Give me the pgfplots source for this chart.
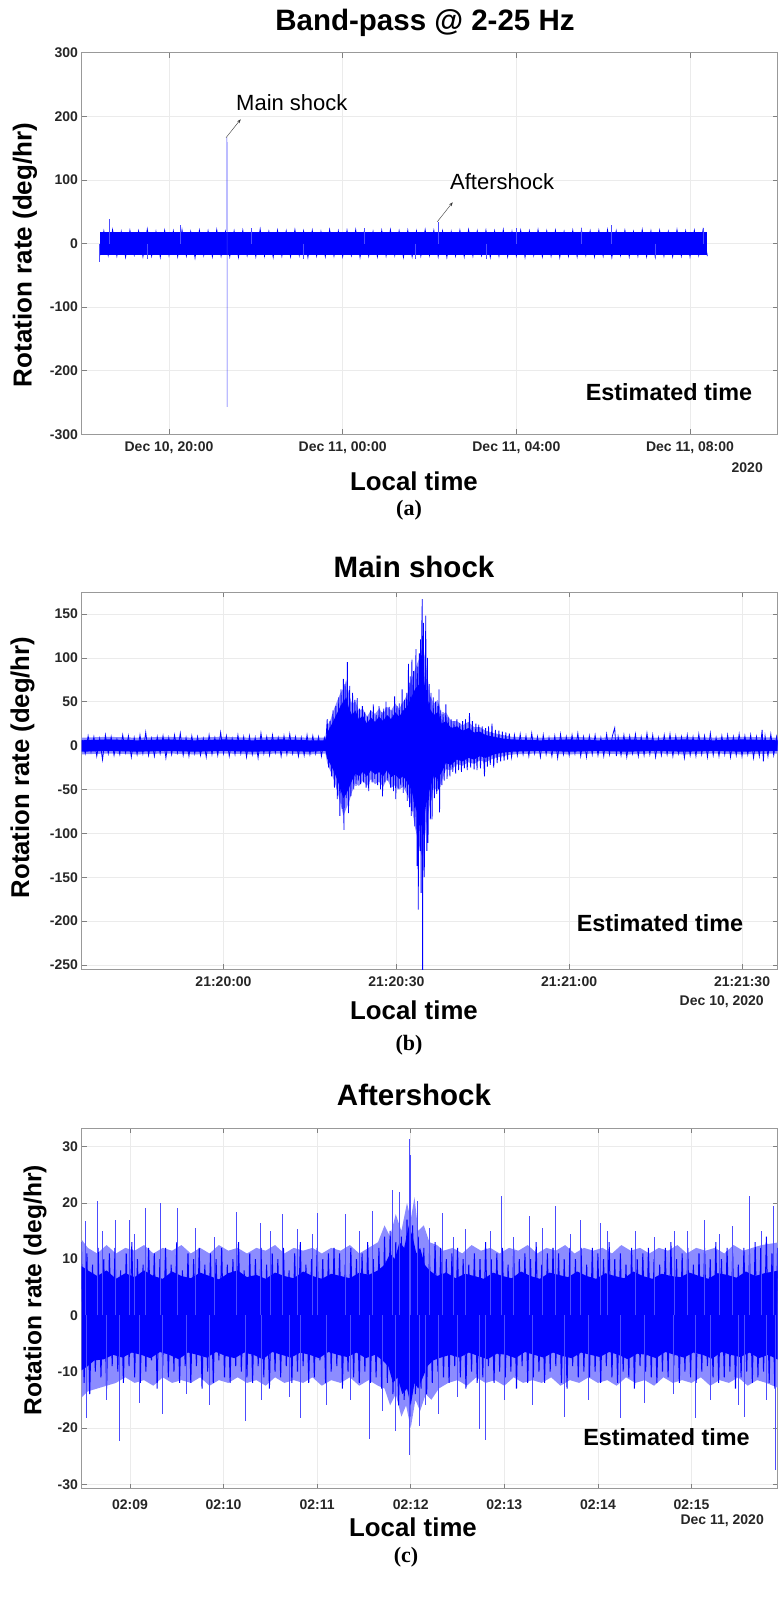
\documentclass[border=0pt]{standalone}
\usepackage{pgfplots}
\pgfplotsset{compat=1.18}
\usepackage{fontspec}
\setmainfont{Liberation Sans}
\newfontfamily\seriffont{Liberation Serif}
\usetikzlibrary{arrows.meta}
\pgfplotsset{
  mat/.style={
    scale only axis, width=696bp, anchor=north west,
    axis line style={draw=black!40, line width=0.6bp},
    tick style={draw=black!50, line width=0.6bp},
    major tick length=5bp,
    grid=major, major grid style={draw=black!8, line width=0.6bp},
    tick label style={font=\fontsize{14bp}{16bp}\selectfont\bfseries, text=black!85},
    clip=true,
  },
  sig/.style={blue, line width=0.8bp, no marks, sharp plot},
  spk/.style={ycomb, blue!70, line width=0.5bp, no marks},
  core/.style={fill=blue, draw=none},
  halo/.style={fill=blue!45, draw=none},
}
\begin{document}
\begin{tikzpicture}
\useasboundingbox (0,0) rectangle (782bp,-1603bp);
% ---------------- (a)
\begin{axis}[mat, at={(81.5bp,-52.7bp)}, height=381.6bp,
  xticklabel style={yshift=-4bp},
  xmin=17.985, xmax=34.015, ymin=-300, ymax=300,
  xtick={20,24,28,32}, xticklabels={{Dec 10, 20:00},{Dec 11, 00:00},{Dec 11, 04:00},{Dec 11, 08:00}},
  ytick={-300,-200,-100,0,100,200,300}, yticklabels={-300,-200,-100,0,100,200,300}]
\addplot[core] coordinates {(18.4,-18) (32.4,-18) (32.4,18) (18.4,18)};
\addplot[sig, line width=0.7bp] coordinates {
(18.4,-21) (18.5,20) (18.6,-19) (18.7,22) (18.8,-20) (18.9,19) (19.0,-22) (19.1,21) (19.2,-18) (19.3,20)
(19.4,-21) (19.5,23) (19.6,-20) (19.7,19) (19.8,-22) (19.9,21) (20.0,-19) (20.1,20) (20.2,-21) (20.3,22)
(20.4,-20) (20.5,19) (20.6,-23) (20.7,21) (20.8,-19) (20.9,20) (21.0,-21) (21.1,22) (21.2,-20) (21.3,19)
(21.4,-21) (21.5,20) (21.6,-22) (21.7,21) (21.8,-19) (21.9,20) (22.0,-21) (22.1,23) (22.2,-20) (22.3,19)
(22.4,-22) (22.5,21) (22.6,-20) (22.7,20) (22.8,-21) (22.9,22) (23.0,-19) (23.1,20) (23.2,-22) (23.3,21)
(23.4,-20) (23.5,19) (23.6,-21) (23.7,22) (23.8,-20) (23.9,20) (24.0,-21) (24.1,21) (24.2,-19) (24.3,22)
(24.4,-22) (24.5,20) (24.6,-20) (24.7,19) (24.8,-21) (24.9,21) (25.0,-20) (25.1,22) (25.2,-19) (25.3,20)
(25.4,-22) (25.5,21) (25.6,-21) (25.7,20) (25.8,-20) (25.9,22) (26.0,-19) (26.1,21) (26.2,-21) (26.3,20)
(26.4,-22) (26.5,19) (26.6,-20) (26.7,21) (26.8,-21) (26.9,22) (27.0,-20) (27.1,20) (27.2,-19) (27.3,21)
(27.4,-22) (27.5,20) (27.6,-20) (27.7,22) (27.8,-21) (27.9,19) (28.0,-20) (28.1,21) (28.2,-22) (28.3,20)
(28.4,-19) (28.5,22) (28.6,-21) (28.7,20) (28.8,-20) (28.9,21) (29.0,-22) (29.1,19) (29.2,-20) (29.3,21)
(29.4,-21) (29.5,22) (29.6,-19) (29.7,20) (29.8,-21) (29.9,21) (30.0,-20) (30.1,22) (30.2,-22) (30.3,20)
(30.4,-19) (30.5,21) (30.6,-21) (30.7,19) (30.8,-20) (30.9,22) (31.0,-21) (31.1,20) (31.2,-22) (31.3,21)
(31.4,-20) (31.5,19) (31.6,-21) (31.7,22) (31.8,-20) (31.9,20) (32.0,-21) (32.1,21) (32.2,-19) (32.3,22)
(32.4,-20)};
\addplot[spk] coordinates {(18.4,-29) (18.62,38) (19.5,-24) (20.25,29) (21.9,25) (23.1,-24) (24.5,24) (25.67,-25)
 (26.19,34) (27.3,-24) (28.0,24) (29.5,24) (30.18,29) (31.2,-23) (32.3,25)};
\addplot[blue!75, line width=0.5bp, no marks] coordinates {(21.336,20) (21.336,167) (21.338,-257) (21.34,-20)};
\end{axis}
% ---------------- (b)
\begin{axis}[mat, at={(81.5bp,-592.3bp)}, height=377bp,
  xticklabel style={yshift=-4bp},
  xmin=-24.65, xmax=96.16, ymin=-255, ymax=174.7,
  xtick={0,30,60,90}, xticklabels={21:20:00,21:20:30,21:21:00,21:21:30},
  ytick={-250,-200,-150,-100,-50,0,50,100,150}, yticklabels={-250,-200,-150,-100,-50,0,50,100,150}]
\addplot[halo] coordinates {(-24.65,9) (-20,10) (-15,9) (-10,10) (-5,9) (0,10) (5,9) (10,10) (15,9) (17.7,9) (18.0,22)
 (18.6,30) (19.2,42) (19.8,52) (20.3,60) (20.8,65) (21.3,75) (21.8,58) (22.3,48) (22.9,50) (23.5,40) (24.2,42)
 (24.9,33) (25.6,40) (26.3,36) (27.0,42) (27.7,36) (28.4,44) (29.1,40) (29.8,48) (30.5,42) (31.2,50) (31.9,58)
 (32.6,75) (33.3,88) (34.0,100) (34.6,115) (35.2,90) (35.8,58) (36.5,48) (37.2,52) (37.9,35) (38.6,38) (39.5,28)
 (40.5,28) (41.5,23) (42.5,27) (43.5,21) (44.5,21) (45.5,17) (47,14) (48.5,12) (50,10) (55,9) (60,10) (65,9) (70,10)
 (75,9) (80,10) (85,9) (90,10) (96.2,9)
 (96.2,-9) (90,-10) (85,-9) (80,-10) (75,-9) (70,-10) (65,-9) (60,-10) (55,-9) (50,-10) (48.5,-12) (47,-14)
 (45.5,-19) (44.5,-17) (43.5,-21) (42.5,-19) (41.5,-23) (40.5,-21) (39.5,-28) (38.6,-27) (37.9,-40) (37.2,-52)
 (36.5,-48) (35.8,-68) (35.2,-90) (34.6,-130) (34.0,-115) (33.3,-95) (32.6,-68) (31.9,-56) (31.2,-47) (30.5,-50)
 (29.8,-45) (29.1,-48) (28.4,-38) (27.7,-47) (27.0,-41) (26.3,-44) (25.6,-38) (24.9,-46) (24.2,-40) (23.5,-46)
 (22.9,-43) (22.3,-53) (21.8,-64) (21.3,-72) (20.8,-80) (20.3,-66) (19.8,-53) (19.2,-40) (18.6,-30) (18.0,-20)
 (17.7,-9) (15,-10) (10,-9) (5,-10) (0,-9) (-5,-10) (-10,-9) (-15,-10) (-20,-9) (-24.65,-10)};
\addplot[core] coordinates {(-24.65,6) (-20,7) (-15,6) (-10,7) (-5,6) (0,7) (5,6) (10,7) (15,6) (17.7,6) (18.0,15)
 (18.6,22) (19.2,30) (19.8,38) (20.3,45) (20.8,50) (21.3,55) (21.8,42) (22.3,35) (22.9,40) (23.5,30) (24.2,34)
 (24.9,25) (25.6,32) (26.3,27) (27.0,33) (27.7,28) (28.4,35) (29.1,30) (29.8,38) (30.5,33) (31.2,40) (31.9,45)
 (32.6,55) (33.3,65) (34.0,70) (34.6,80) (35.2,60) (35.8,42) (36.5,35) (37.2,38) (37.9,25) (38.6,28) (39.5,20)
 (40.5,22) (41.5,17) (42.5,20) (43.5,15) (44.5,16) (45.5,12) (47,10) (48.5,8) (50,7) (55,6) (60,7) (65,6) (70,7)
 (75,6) (80,7) (85,6) (90,7) (96.2,6)
 (96.2,-6) (90,-7) (85,-6) (80,-7) (75,-6) (70,-7) (65,-6) (60,-7) (55,-6) (50,-7) (48.5,-8) (47,-10) (45.5,-14)
 (44.5,-12) (43.5,-16) (42.5,-14) (41.5,-18) (40.5,-16) (39.5,-22) (38.6,-20) (37.9,-30) (37.2,-38) (36.5,-35)
 (35.8,-50) (35.2,-65) (34.6,-95) (34.0,-85) (33.3,-70) (32.6,-50) (31.9,-42) (31.2,-35) (30.5,-38) (29.8,-33)
 (29.1,-36) (28.4,-28) (27.7,-35) (27.0,-30) (26.3,-33) (25.6,-28) (24.9,-35) (24.2,-30) (23.5,-35) (22.9,-32)
 (22.3,-40) (21.8,-48) (21.3,-55) (20.8,-60) (20.3,-50) (19.8,-40) (19.2,-30) (18.6,-22) (18.0,-15) (17.7,-6)
 (15,-7) (10,-6) (5,-7) (0,-6) (-5,-7) (-10,-6) (-15,-7) (-20,-6) (-24.65,-7)};
\addplot[sig] coordinates {
(-24.5,6) (-24.0,-9) (-23.5,11) (-23.0,-7) (-22.5,10) (-22.0,-12) (-21.5,8) (-21.0,-16) (-20.5,12) (-20.0,-9)
(-19.5,10) (-19.0,-11) (-18.5,7) (-18.0,-10) (-17.5,12) (-17.0,-8) (-16.5,11) (-16.0,-13) (-15.5,9) (-15.0,-10)
(-14.5,12) (-14.0,-9) (-13.5,15) (-13.0,-11) (-12.5,8) (-12.0,-12) (-11.5,10) (-11.0,-9) (-10.5,11) (-10.0,-14)
(-9.5,9) (-9.0,-10) (-8.5,12) (-8.0,-8) (-7.5,14) (-7.0,-11) (-6.5,9) (-6.0,-12) (-5.5,11) (-5.0,-9)
(-4.5,10) (-4.0,-11) (-3.5,8) (-3.0,-13) (-2.5,12) (-2.0,-10) (-1.5,9) (-1.0,-11) (-0.5,15) (0.0,-9)
(0.5,11) (1.0,-12) (1.5,8) (2.0,-10) (2.5,12) (3.0,-9) (3.5,10) (4.0,-13) (4.5,11) (5.0,-10)
(5.5,9) (6.0,-14) (6.5,14) (7.0,-9) (7.5,10) (8.0,-11) (8.5,12) (9.0,-8) (9.5,9) (10.0,-12)
(10.5,11) (11.0,-10) (11.5,13) (12.0,-9) (12.5,10) (13.0,-12) (13.5,9) (14.0,-11) (14.5,12) (15.0,-10)
(15.5,11) (16.0,-9) (16.5,10) (17.0,-12) (17.5,9) (17.75,3) (18.0,30) (18.25,-25) (18.5,28) (18.75,-35)
(19.0,40) (19.25,-48) (19.5,45) (19.75,-61) (20.0,55) (20.2,-80) (20.4,64) (20.6,-72) (20.8,76) (20.9,-96)
(21.1,70) (21.3,-60) (21.5,95) (21.7,-77) (21.9,68) (22.1,-58) (22.4,60) (22.6,-50) (22.8,52) (23.0,-46)
(23.2,54) (23.4,-40) (23.6,42) (23.8,-44) (24.1,45) (24.3,-42) (24.5,38) (24.75,-48) (25.0,33) (25.2,-52)
(25.5,40) (25.8,-42) (26.0,47) (26.25,-38) (26.5,35) (26.75,-45) (27.0,45) (27.25,-50) (27.5,38) (27.6,-58)
(27.8,42) (28.0,-42) (28.2,50) (28.5,-40) (28.75,44) (29.0,-48) (29.25,40) (29.5,-52) (29.7,56) (29.9,-61)
(30.1,45) (30.3,-50) (30.5,48) (30.75,-45) (31.0,64) (31.2,-54) (31.4,52) (31.6,-48) (31.8,60) (31.9,-63)
(32.1,93) (32.3,-70) (32.4,79) (32.6,-80) (32.7,98) (32.9,-75) (33.0,85) (33.2,-92) (33.4,110) (33.6,-137)
(33.7,90) (33.8,-187) (34.0,105) (34.1,-120) (34.2,121) (34.3,-168) (34.4,130) (34.5,167) (34.55,-280) (34.7,140)
(34.85,-150) (35.1,148) (35.3,-120) (35.4,100) (35.5,-111) (35.7,70) (35.9,-84) (36.0,60) (36.2,-84) (36.4,55)
(36.6,-60) (36.8,50) (37.0,-55) (37.2,45) (37.3,-50) (37.4,64) (37.5,-76) (37.7,40) (37.9,-45) (38.1,38)
(38.3,-40) (38.6,47) (38.8,-38) (39.0,32) (39.3,-35) (39.5,30) (39.8,-30) (40.0,28) (40.3,-32) (40.5,30)
(40.8,-28) (41.0,26) (41.3,-30) (41.5,28) (41.8,-26) (42.0,30) (42.3,-28) (42.7,37) (42.9,-25) (43.2,28)
(43.5,-27) (43.8,25) (44.0,-28) (44.3,24) (44.6,-26) (44.9,22) (45.3,-35) (45.5,20) (45.8,-24) (46.0,22)
(46.3,-22) (46.6,25) (46.9,-25) (47.2,18) (47.5,-20) (47.8,17) (48.1,-18) (48.4,16) (48.7,-17) (49.0,15)
(49.3,-16) (49.6,14) (50.0,-13) (50.5,12) (51.0,-11) (51.5,13) (52.0,-10) (52.5,11) (53.0,-12) (53.5,14)
(54.0,-9) (54.5,10) (55.0,-13) (55.5,12) (56.0,-10) (56.5,9) (57.0,-12) (57.5,11) (58.0,-14) (58.5,13)
(59.0,-10) (59.5,10) (60.0,-11) (60.5,12) (61.0,-9) (61.5,14) (62.0,-12) (62.5,10) (63.0,-13) (63.5,11)
(64.0,-10) (64.5,12) (65.0,-11) (65.5,9) (66.0,-12) (66.5,13) (67.0,-10) (67.5,11) (67.9,20) (68.2,-12)
(68.5,10) (69.0,-11) (69.5,12) (70.0,-13) (70.5,11) (71.0,-9) (71.5,13) (72.0,-12) (72.5,10) (73.0,-11)
(73.5,14) (74.0,-10) (74.5,12) (75.0,-13) (75.5,9) (76.0,-11) (76.5,12) (77.0,-10) (77.5,13) (78.0,-12)
(78.5,11) (79.0,-9) (79.5,10) (80.0,-14) (80.5,12) (81.0,-11) (81.5,10) (82.0,-12) (82.5,13) (83.0,-10)
(83.5,11) (84.0,-13) (84.5,14) (85.0,-11) (85.5,9) (86.0,-12) (86.5,11) (87.0,-10) (87.5,12) (88.0,-13)
(88.5,10) (89.0,-11) (89.5,13) (90.0,-12) (90.5,11) (91.0,-10) (91.5,12) (92.0,-14) (92.5,10) (93.0,-12)
(93.5,18) (93.7,-18) (94.0,11) (94.5,-12) (95.0,13) (95.5,-11) (96.0,10) (96.4,-9)};
\end{axis}
% ---------------- (c)
\begin{axis}[mat, at={(81.5bp,-1128bp)}, height=360.7bp,
  xticklabel style={yshift=-7bp},
  xmin=8.482, xmax=15.919, ymin=-30.8, ymax=33.3,
  xtick={9,10,11,12,13,14,15}, xticklabels={02:09,02:10,02:11,02:12,02:13,02:14,02:15},
  ytick={-30,-20,-10,0,10,20,30}, yticklabels={-30,-20,-10,0,10,20,30}]
\addplot[halo] coordinates {(8.46,14) (8.55,12) (8.65,11) (8.75,12.5) (8.85,11) (8.95,12) (9.05,11.5) (9.15,12.5)
 (9.25,11) (9.35,12) (9.45,11.5) (9.55,12.5) (9.65,11) (9.75,12) (9.85,11) (9.95,12.5) (10.05,11.5) (10.15,12)
 (10.25,11) (10.35,12) (10.45,11.5) (10.55,12.5) (10.65,11) (10.75,12) (10.85,11.5) (10.95,12) (11.05,11) (11.15,12)
 (11.25,11.5) (11.35,12.5) (11.45,11) (11.55,12) (11.65,13) (11.72,16) (11.78,14) (11.84,18) (11.9,15) (11.96,20)
 (12.0,17) (12.04,21) (12.08,15) (12.14,16) (12.2,13) (12.28,12.5) (12.35,11.5) (12.45,12) (12.55,11) (12.65,12.5)
 (12.75,11.5) (12.85,12) (12.95,11) (13.05,12) (13.15,11.5) (13.25,12.5) (13.35,11) (13.45,12) (13.55,11.5) (13.65,12.5)
 (13.75,11) (13.85,12) (13.95,11.5) (14.05,12) (14.15,11) (14.25,12.5) (14.35,11.5) (14.45,12) (14.55,11) (14.65,12)
 (14.75,11.5) (14.85,12.5) (14.95,11) (15.05,12) (15.15,11.5) (15.25,12) (15.35,11) (15.45,12.5) (15.55,11.5) (15.65,12)
 (15.75,12.5) (15.94,13)
 (15.94,-13) (15.8,-12) (15.7,-11.5) (15.6,-12.5) (15.5,-11) (15.4,-12) (15.3,-11.5) (15.2,-12.5) (15.1,-11) (15.0,-12)
 (14.9,-11.5) (14.8,-12) (14.7,-11) (14.6,-12.5) (14.5,-11.5) (14.4,-12) (14.3,-11) (14.2,-12.5) (14.1,-11.5) (14.0,-12)
 (13.9,-11) (13.8,-12) (13.7,-11.5) (13.6,-12.5) (13.5,-11) (13.4,-12) (13.3,-11.5) (13.2,-12) (13.1,-11) (13.0,-12.5)
 (12.9,-11.5) (12.8,-12) (12.7,-11) (12.6,-12.5) (12.5,-11.5) (12.4,-12) (12.3,-13) (12.22,-15) (12.16,-14)
 (12.1,-17) (12.05,-15) (12.0,-20) (11.95,-16) (11.9,-18) (11.84,-14) (11.78,-16) (11.72,-13) (11.65,-12.5)
 (11.55,-11.5) (11.45,-12.5) (11.35,-11) (11.25,-12) (11.15,-11.5) (11.05,-12.5) (10.95,-11) (10.85,-12) (10.75,-11.5)
 (10.65,-12) (10.55,-11) (10.45,-12.5) (10.35,-11.5) (10.25,-12) (10.15,-11) (10.05,-12) (9.95,-11.5) (9.85,-12.5)
 (9.75,-11) (9.65,-12) (9.55,-11.5) (9.45,-12) (9.35,-11) (9.25,-12.5) (9.15,-11.5) (9.05,-12) (8.95,-11) (8.85,-12)
 (8.75,-12.5) (8.65,-13) (8.55,-13.5) (8.46,-15)};
\addplot[core] coordinates {(8.46,9) (8.55,8) (8.65,7) (8.75,8) (8.85,6.5) (8.95,7.5) (9.05,6.8) (9.15,8) (9.25,7)
 (9.35,6.5) (9.45,7.8) (9.55,7) (9.65,6.6) (9.75,7.6) (9.85,7) (9.95,6.4) (10.05,7.5) (10.15,8) (10.25,6.8) (10.35,7.2)
 (10.45,6.5) (10.55,7.6) (10.65,7) (10.75,6.6) (10.85,7.8) (10.95,7) (11.05,6.5) (11.15,7.4) (11.25,7) (11.35,6.6)
 (11.45,7.6) (11.55,7.2) (11.65,8) (11.72,9) (11.78,11) (11.83,10) (11.88,13) (11.93,12) (11.98,16) (12.02,14)
 (12.06,11) (12.1,12) (12.15,9) (12.2,8) (12.28,7) (12.38,7.6) (12.48,6.6) (12.58,7.4) (12.68,7) (12.78,6.5)
 (12.88,7.6) (12.98,7) (13.08,6.6) (13.18,7.8) (13.28,7) (13.38,6.5) (13.48,7.6) (13.58,7.2) (13.68,6.8) (13.78,7.8)
 (13.88,7) (13.98,6.5) (14.08,7.5) (14.18,7) (14.28,6.6) (14.38,7.8) (14.48,7) (14.58,6.5) (14.68,7.4) (14.78,7)
 (14.88,6.8) (14.98,7.6) (15.08,7) (15.18,6.5) (15.28,7.5) (15.38,7.2) (15.48,6.7) (15.58,7.8) (15.68,7) (15.78,7.5)
 (15.94,8)
 (15.94,-8) (15.82,-7) (15.72,-7.6) (15.62,-6.6) (15.52,-7.4) (15.42,-7) (15.32,-6.5) (15.22,-7.7) (15.12,-7)
 (15.02,-6.6) (14.92,-7.5) (14.82,-7) (14.72,-6.5) (14.62,-7.6) (14.52,-7) (14.42,-6.8) (14.32,-7.8) (14.22,-7)
 (14.12,-6.5) (14.02,-7.4) (13.92,-7) (13.82,-6.6) (13.72,-7.6) (13.62,-7.2) (13.52,-6.6) (13.42,-7.5) (13.32,-7)
 (13.22,-6.5) (13.12,-7.6) (13.02,-7) (12.92,-6.8) (12.82,-7.8) (12.72,-7.2) (12.62,-6.6) (12.52,-7.5) (12.42,-7)
 (12.32,-7.5) (12.24,-8) (12.18,-9) (12.13,-11) (12.08,-13) (12.04,-12) (12.0,-16) (11.96,-13) (11.91,-14)
 (11.86,-11) (11.81,-12) (11.76,-9) (11.7,-8) (11.62,-7) (11.52,-7.6) (11.42,-6.6) (11.32,-7.4) (11.22,-7)
 (11.12,-6.5) (11.02,-7.6) (10.92,-7) (10.82,-6.6) (10.72,-7.5) (10.62,-7) (10.52,-6.5) (10.42,-7.8) (10.32,-7)
 (10.22,-6.6) (10.12,-7.6) (10.02,-7.2) (9.92,-6.5) (9.82,-7.5) (9.72,-7) (9.62,-6.6) (9.52,-7.8) (9.42,-7)
 (9.32,-6.5) (9.22,-7.6) (9.12,-7) (9.02,-6.6) (8.92,-7.5) (8.82,-7) (8.72,-7.8) (8.62,-8) (8.55,-9) (8.46,-10)};
\addplot[sig, line width=1bp] coordinates {
(8.48,13) (8.51,-12) (8.54,11) (8.57,-14) (8.60,9) (8.63,-10) (8.66,12) (8.69,-11) (8.72,10) (8.75,-13)
(8.78,11) (8.81,-9) (8.84,12) (8.87,-10) (8.90,8) (8.93,-12) (8.96,11) (8.99,-9) (9.02,13) (9.05,-11)
(9.08,10) (9.11,-12) (9.14,9) (9.17,-10) (9.20,12) (9.23,-8) (9.26,11) (9.29,-13) (9.32,10) (9.35,-9)
(9.38,12) (9.41,-11) (9.44,9) (9.47,-10) (9.50,13) (9.53,-12) (9.56,8) (9.59,-9) (9.62,11) (9.65,-12)
(9.68,10) (9.71,-9) (9.74,12) (9.77,-13) (9.80,9) (9.83,-10) (9.86,11) (9.89,-12) (9.92,10) (9.95,-8)
(9.98,12) (10.01,-11) (10.04,9) (10.07,-12) (10.10,10) (10.13,-9) (10.16,13) (10.19,-10) (10.22,8) (10.25,-11)
(10.28,11) (10.31,-12) (10.34,10) (10.37,-9) (10.40,12) (10.43,-11) (10.46,9) (10.49,-13) (10.52,11) (10.55,-10)
(10.58,10) (10.61,-11) (10.64,12) (10.67,-9) (10.70,8) (10.73,-12) (10.76,11) (10.79,-10) (10.82,13) (10.85,-9)
(10.88,9) (10.91,-12) (10.94,10) (10.97,-11) (11.00,12) (11.03,-8) (11.06,10) (11.09,-12) (11.12,11) (11.15,-10)
(11.18,12) (11.21,-9) (11.24,11) (11.27,-13) (11.30,9) (11.33,-10) (11.36,12) (11.39,-11) (11.42,10) (11.45,-12)
(11.48,11) (11.51,-10) (11.54,13) (11.57,-12) (11.60,10) (11.63,-11) (11.66,12) (11.69,-13) (11.72,14) (11.75,-12)
(11.78,15) (11.81,-14) (11.84,13) (11.87,-16) (11.90,14) (11.93,-15) (11.96,17) (11.99,-18) (12.02,16) (12.05,-14)
(12.08,14) (12.11,-13) (12.14,12) (12.17,-14) (12.20,11) (12.23,-12) (12.26,13) (12.29,-10) (12.32,12) (12.35,-11)
(12.38,10) (12.41,-12) (12.44,11) (12.47,-9) (12.50,12) (12.53,-11) (12.56,10) (12.59,-13) (12.62,9) (12.65,-10)
(12.68,11) (12.71,-12) (12.74,10) (12.77,-11) (12.80,13) (12.83,-9) (12.86,10) (12.89,-12) (12.92,11) (12.95,-10)
(12.98,12) (13.01,-11) (13.04,9) (13.07,-10) (13.10,12) (13.13,-13) (13.16,10) (13.19,-9) (13.22,11) (13.25,-12)
(13.28,10) (13.31,-11) (13.34,13) (13.37,-10) (13.40,9) (13.43,-12) (13.46,11) (13.49,-10) (13.52,12) (13.55,-9)
(13.58,11) (13.61,-12) (13.64,10) (13.67,-13) (13.70,12) (13.73,-9) (13.76,10) (13.79,-11) (13.82,12) (13.85,-10)
(13.88,9) (13.91,-11) (13.94,12) (13.97,-10) (14.00,11) (14.03,-12) (14.06,10) (14.09,-9) (14.12,13) (14.15,-11)
(14.18,10) (14.21,-12) (14.24,11) (14.27,-10) (14.30,9) (14.33,-11) (14.36,12) (14.39,-13) (14.42,10) (14.45,-9)
(14.48,11) (14.51,-10) (14.54,12) (14.57,-11) (14.60,10) (14.63,-12) (14.66,9) (14.69,-10) (14.72,12) (14.75,-11)
(14.78,13) (14.81,-9) (14.84,10) (14.87,-12) (14.90,11) (14.93,-10) (14.96,12) (14.99,-11) (15.02,9) (15.05,-12)
(15.08,11) (15.11,-10) (15.14,12) (15.17,-9) (15.20,10) (15.23,-11) (15.26,13) (15.29,-12) (15.32,10) (15.35,-11)
(15.38,12) (15.41,-10) (15.44,11) (15.47,-13) (15.50,9) (15.53,-11) (15.56,12) (15.59,-10) (15.62,11) (15.65,-12)
(15.68,13) (15.71,-11) (15.74,12) (15.77,-10) (15.80,14) (15.83,-12) (15.86,11) (15.89,-13) (15.92,12)};
\addplot[spk] coordinates {(8.52,16.8) (8.65,20.3) (8.84,17) (8.99,17) (9.16,19) (9.32,19.9) (9.51,19) (10.14,18.4)
 (10.39,16.5) (10.63,18) (10.79,15.3) (11.0,18.2) (11.3,18) (11.59,18.5) (11.8,22.2) (11.88,22) (11.98,31.3) (12.0,28.5)
 (12.07,20.3) (12.34,18.2) (12.58,15.3) (12.97,21.3) (13.27,17.6) (13.54,19.4) (13.81,17) (14.02,16.5) (14.4,15)
 (14.82,15) (15.14,17) (15.44,15.9) (15.62,21.2) (15.87,19.4)
 (8.7,15) (9.05,14.5) (9.7,15.5) (9.9,14) (10.5,15) (10.95,14.5) (11.45,15) (12.2,15.5) (12.45,14) (12.85,15) (13.1,14)
 (13.4,15.5) (13.7,14.5) (14.1,15) (14.6,14) (14.95,15) (15.3,14.5) (15.75,15)
 (8.53,-18.2) (8.89,-22.4) (9.35,-17.6) (10.23,-18.8) (10.82,-18.2) (11.56,-22) (11.83,-20.6) (11.98,-24.8) (12.09,-19.7)
 (12.29,-17.6) (12.73,-20.2) (12.8,-22.2) (13.64,-18.1) (14.24,-18.2) (15.04,-18.2) (15.56,-18.1) (15.89,-27.4)
 (8.75,-15) (9.1,-15.5) (9.6,-14) (9.85,-16) (10.4,-15) (10.7,-14.5) (11.1,-16) (11.35,-15) (11.7,-17) (12.15,-16)
 (12.5,-14.5) (13.0,-15) (13.3,-16) (13.9,-15) (14.5,-15.5) (14.8,-14) (15.2,-15) (15.5,-16) (15.8,-15)};
\end{axis}
% ---------------- text
\def\ttl{\fontsize{29.5bp}{32bp}\selectfont\bfseries}
\def\lab{\fontsize{25.8bp}{28bp}\selectfont\bfseries}
\def\dat{\fontsize{14bp}{16bp}\selectfont\bfseries\color{black!85}}
\def\est{\fontsize{23.4bp}{26bp}\selectfont\bfseries}
\def\ann{\fontsize{22bp}{24bp}\selectfont}
\def\cap{\fontsize{22bp}{24bp}\selectfont\seriffont\bfseries}
\node at (425bp,-23bp) {\ttl Band-pass @ 2-25 Hz};
\node at (414bp,-566.7bp) {\ttl Main shock};
\node at (414bp,-1095bp) {\ttl Aftershock};
\node[rotate=90] at (25bp,-255bp) {\fontsize{26bp}{28bp}\selectfont\bfseries Rotation rate (deg/hr)};
\node[rotate=90] at (22.5bp,-767.5bp) {\fontsize{25.7bp}{28bp}\selectfont\bfseries Rotation rate (deg/hr)};
\node[rotate=90] at (35bp,-1290bp) {\fontsize{24.6bp}{27bp}\selectfont\bfseries Rotation rate (deg/hr)};
\node at (414bp,-481bp) {\lab Local time};
\node at (414bp,-1010bp) {\lab Local time};
\node at (413bp,-1527bp) {\lab Local time};
\node[anchor=east, inner sep=0pt] at (763bp,-467.3bp) {\dat 2020};
\node[anchor=east, inner sep=0pt] at (764bp,-1001.7bp) {\dat Dec 10, 2020};
\node[anchor=east, inner sep=0pt] at (764bp,-1521bp) {\dat Dec 11, 2020};
\node at (669bp,-391.7bp) {\est Estimated time};
\node at (660bp,-923bp) {\est Estimated time};
\node at (666.5bp,-1437.5bp) {\est Estimated time};
\node[anchor=west, inner sep=0pt] at (236bp,-102.5bp) {\ann Main shock};
\node[anchor=west, inner sep=0pt] at (450bp,-182bp) {\ann Aftershock};
\draw[black!80, line width=0.4bp, -{Stealth[length=4bp,width=3bp]}] (226bp,-137.7bp) -- (240.7bp,-119.3bp);
\draw[black!80, line width=0.4bp, -{Stealth[length=4bp,width=3bp]}] (437.3bp,-221.7bp) -- (452.7bp,-202.3bp);
\node at (409bp,-510bp) {\cap (a)};
\node at (409bp,-1045bp) {\cap (b)};
\node at (406bp,-1557bp) {\cap (c)};
\end{tikzpicture}
\end{document}
